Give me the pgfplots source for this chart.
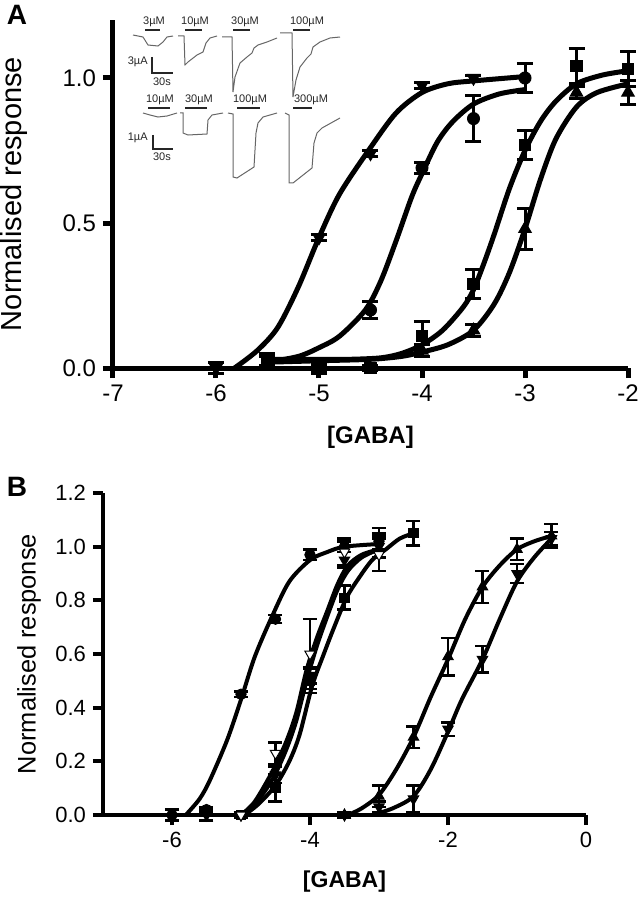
\documentclass[border=0pt]{standalone}
\usepackage{fontspec}
\setmainfont{Liberation Sans}
\usepackage{pgfplots}
\pgfplotsset{compat=1.18}

\pgfplotsset{
  fitA/.style={black, line width=2.5pt, smooth, no markers},
  fitB/.style={black, line width=2pt, smooth, no markers},
  ptsA/.style={black, only marks, mark size=3pt, line width=0.5pt,
    /pgfplots/error bars/y dir=both, /pgfplots/error bars/y explicit,
    /pgfplots/error bars/error bar style={line width=1.5pt, black},
    /pgfplots/error bars/error mark options={rotate=90, line width=1.5pt, mark size=4pt, black}},
  ptsB/.style={black, only marks, mark size=2.6pt, line width=0.5pt,
    /pgfplots/error bars/y dir=both, /pgfplots/error bars/y explicit,
    /pgfplots/error bars/error bar style={line width=1.3pt, black},
    /pgfplots/error bars/error mark options={rotate=90, line width=1.3pt, mark size=3.5pt, black}},
  trace/.style={black!60, line width=0.5pt, no markers},
  bar/.style={black!85, line width=0.8pt, no markers},
}

\begin{document}
\begin{tikzpicture}
% ---------------- panel A ----------------
\begin{axis}[
  at={(0pt,0pt)}, anchor=south west, scale only axis,
  width=257.5pt, height=174pt,
  xmin=-7, xmax=-2, ymin=0, ymax=1.2,
  axis lines=left, axis line style={line width=2.5pt, -},
  tick style={black, line width=2.5pt}, tick align=outside, major tick length=5pt,
  xtick={-7,-6,-5,-4,-3,-2}, xticklabels={-7,-6,-5,-4,-3,-2},
  ytick={0,0.5,1}, yticklabels={0.0,0.5,1.0},
  ticklabel style={font=\fontsize{12}{14}\selectfont},
  xlabel={[GABA]}, ylabel={Normalised response},
  xlabel style={at={(axis description cs:0.5,0)}, anchor=center, yshift=-34.5pt, font=\fontsize{12}{14}\selectfont\bfseries},
  ylabel style={at={(axis description cs:-0.192,0.5)}, anchor=center, font=\fontsize{14.5}{17}\selectfont},
  clip=false,
]
% fitted curves
\addplot[fitA] coordinates {(-5.82,0) (-5.6,0.06) (-5.4,0.14) (-5.2,0.28) (-5.0,0.45) (-4.8,0.60) (-4.5,0.76) (-4.25,0.88) (-4.0,0.95) (-3.75,0.98) (-3.5,0.99) (-3.0,1.005)};
\addplot[fitA] coordinates {(-5.5,0.02) (-5.2,0.04) (-5.0,0.07) (-4.8,0.11) (-4.55,0.20) (-4.4,0.30) (-4.25,0.44) (-4.1,0.59) (-4.0,0.67) (-3.85,0.78) (-3.7,0.85) (-3.5,0.91) (-3.25,0.945) (-3.0,0.96)};
\addplot[fitA] coordinates {(-5.5,0.03) (-5.0,0.03) (-4.7,0.03) (-4.4,0.035) (-4.2,0.05) (-4.0,0.08) (-3.8,0.13) (-3.6,0.21) (-3.5,0.27) (-3.4,0.36) (-3.3,0.46) (-3.15,0.62) (-3.0,0.75) (-2.85,0.85) (-2.7,0.92) (-2.5,0.98) (-2.25,1.01) (-2.0,1.025)};
\addplot[fitA] coordinates {(-5.5,0.02) (-5.0,0.025) (-4.5,0.03) (-4.2,0.04) (-4.0,0.055) (-3.75,0.08) (-3.5,0.13) (-3.3,0.22) (-3.15,0.33) (-3.0,0.48) (-2.85,0.65) (-2.7,0.79) (-2.5,0.90) (-2.3,0.95) (-2.0,0.98)};
% data
\addplot[ptsA, mark=triangle*, mark size=3.6pt, mark options={rotate=180}] coordinates {
  (-6,0.0) +- (0,0.02) (-5,0.45) +- (0,0.01) (-4.5,0.74) +- (0,0.01) (-4,0.975) +- (0,0.01) (-3.5,1.0) +- (0,0.01)};
\addplot[ptsA, mark=*] coordinates {
  (-5.5,0.02) +- (0,0.02) (-5,0.0) +- (0,0.02) (-4.5,0.20) +- (0,0.03) (-4,0.69) +- (0,0.02) (-3.5,0.86) +- (0,0.08) (-3,1.0) +- (0,0.05)};
\addplot[ptsA, mark=square*, mark size=2.8pt] coordinates {
  (-5.5,0.03) +- (0,0.02) (-5,0.0) +- (0,0.02) (-4.5,0.0) +- (0,0.01) (-4,0.11) +- (0,0.05) (-3.5,0.29) +- (0,0.05) (-3,0.77) +- (0,0.05) (-2.5,1.04) +- (0,0.06) (-2,1.03) +- (0,0.06)};
\addplot[ptsA, mark=triangle*, mark size=3.6pt] coordinates {
  (-5,0.0) +- (0,0.01) (-4,0.06) +- (0,0.02) (-3.5,0.13) +- (0,0.02) (-3,0.48) +- (0,0.07) (-2.5,0.95) +- (0,0.02) (-2,0.95) +- (0,0.04)};
\end{axis}

% ---------------- inset traces (pixel grid of the figure) ----------------
\begin{axis}[
  at={(-56.5pt,184pt)}, anchor=north west, scale only axis,
  width=320.5pt, height=450pt,
  xmin=0, xmax=641, ymin=0, ymax=900, y dir=reverse,
  hide axis, clip=false,
]
\addplot[trace] coordinates {(133,35) (143,37) (148,45) (158,46) (163,42) (167,37) (173,36)};
\addplot[trace] coordinates {(178,36) (184,36) (185,65) (188,62) (197,55) (203,52) (206,43) (210,38) (217,36)};
\addplot[trace] coordinates {(222,37) (232,37) (233,92) (235,77) (240,63) (247,57) (252,53) (254,48) (258,45) (267,42) (277,38)};
\addplot[trace] coordinates {(280,33) (292,33) (293,97) (296,80) (300,67) (307,58) (311,54) (313,47) (320,42) (330,38) (340,37)};
\addplot[trace] coordinates {(143,113) (150,115) (158,117) (167,116) (177,113)};
\addplot[trace] coordinates {(180,113) (183,113) (183,133) (188,135) (207,134) (208,120) (212,115) (223,113)};
\addplot[trace] coordinates {(228,113) (233,114) (233,177) (237,178) (254,167) (256,133) (258,123) (263,117) (277,113)};
\addplot[trace] coordinates {(285,113) (289,115) (289,183) (293,183) (312,168) (314,143) (317,133) (322,128) (340,118)};
% application bars
\addplot[bar] coordinates {(145,30) (160,30)};
\addplot[bar] coordinates {(185,30) (202,30)};
\addplot[bar] coordinates {(233,30) (250,30)};
\addplot[bar] coordinates {(293,30) (310,30)};
\addplot[bar] coordinates {(148,108) (170,108)};
\addplot[bar] coordinates {(185,108) (207,108)};
\addplot[bar] coordinates {(237,108) (260,108)};
\addplot[bar] coordinates {(293,108) (312,108)};
% scale bars
\addplot[bar] coordinates {(152,57) (152,73) (173,73)};
\addplot[bar] coordinates {(153,135) (153,149) (173,149)};
\begin{scope}[every node/.style={font=\fontsize{5.5}{6}\selectfont, text=black!85, inner sep=0pt}]
\node at (axis cs:154,22) {3µM};
\node at (axis cs:195,22) {10µM};
\node at (axis cs:245,22) {30µM};
\node at (axis cs:307,22) {100µM};
\node at (axis cs:160,100) {10µM};
\node at (axis cs:199,100) {30µM};
\node at (axis cs:250,100) {100µM};
\node at (axis cs:311,100) {300µM};
\node[anchor=east] at (axis cs:148,62) {3µA};
\node at (axis cs:162,82) {30s};
\node[anchor=east] at (axis cs:148,138) {1µA};
\node at (axis cs:162,157) {30s};
\end{scope}
\end{axis}

% ---------------- panel B ----------------
\begin{axis}[
  at={(-5pt,-223.5pt)}, anchor=south west, scale only axis,
  width=241.5pt, height=161pt,
  xmin=-7, xmax=0, ymin=0, ymax=1.2,
  axis lines=left, axis line style={line width=2pt, -},
  tick style={black, line width=2pt}, tick align=outside, major tick length=5pt,
  xtick={-6,-4,-2,0}, xticklabels={-6,-4,-2,0},
  ytick={0,0.2,0.4,0.6,0.8,1.0,1.2}, yticklabels={0.0,0.2,0.4,0.6,0.8,1.0,1.2},
  ticklabel style={font=\fontsize{11}{13}\selectfont},
  xlabel={[GABA]}, ylabel={Normalised response},
  xlabel style={at={(axis description cs:0.5,0)}, anchor=center, yshift=-33.5pt, font=\fontsize{11.5}{14}\selectfont\bfseries},
  ylabel style={at={(axis description cs:-0.153,0.5)}, anchor=center, font=\fontsize{12.7}{15}\selectfont},
  clip=false,
]
\addplot[fitB] coordinates {(-5.8,0) (-5.6,0.06) (-5.45,0.13) (-5.2,0.28) (-5.0,0.43) (-4.8,0.59) (-4.55,0.74) (-4.3,0.87) (-4.0,0.95) (-3.75,0.98) (-3.5,1.0) (-3.0,1.01)};
\addplot[fitB] coordinates {(-5.0,0.0) (-4.8,0.05) (-4.55,0.16) (-4.35,0.27) (-4.2,0.38) (-4.05,0.54) (-3.9,0.66) (-3.75,0.76) (-3.6,0.86) (-3.45,0.93) (-3.25,0.97) (-3.0,0.99)};
\addplot[fitB] coordinates {(-5.0,0.0) (-4.8,0.04) (-4.55,0.13) (-4.35,0.24) (-4.2,0.35) (-4.05,0.50) (-3.9,0.63) (-3.75,0.74) (-3.6,0.84) (-3.45,0.91) (-3.25,0.96) (-3.0,0.99)};
\addplot[fitB] coordinates {(-4.95,0.0) (-4.75,0.04) (-4.5,0.11) (-4.3,0.2) (-4.15,0.30) (-3.97,0.48) (-3.8,0.60) (-3.65,0.70) (-3.47,0.81) (-3.3,0.88) (-3.1,0.95) (-2.9,0.99) (-2.7,1.03) (-2.5,1.05)};
\addplot[fitB] coordinates {(-3.45,0.0) (-3.25,0.025) (-3.0,0.075) (-2.75,0.17) (-2.5,0.29) (-2.25,0.44) (-2.0,0.58) (-1.75,0.73) (-1.5,0.85) (-1.25,0.93) (-1.0,0.99) (-0.75,1.02) (-0.5,1.04)};
\addplot[fitB] coordinates {(-3.1,0.0) (-2.8,0.025) (-2.5,0.07) (-2.25,0.17) (-2.0,0.31) (-1.8,0.43) (-1.5,0.58) (-1.25,0.73) (-1.0,0.87) (-0.75,0.96) (-0.5,1.03)};
% data
\addplot[ptsB, mark=triangle*, mark size=3pt, mark options={rotate=180}] coordinates {
  (-5.5,0.0) +- (0,0.02) (-5,0.0) +- (0,0.01) (-4.5,0.15) +- (0,0.03) (-4,0.52) +- (0,0.03) (-3.5,0.95) +- (0,0.03) (-3,1.0) +- (0,0.04)};
\addplot[ptsB, mark=*] coordinates {
  (-6,0.0) +- (0,0.02) (-5.5,0.02) +- (0,0.01) (-5,0.45) +- (0,0.01) (-4.5,0.73) +- (0,0.015) (-4,0.97) +- (0,0.02) (-3.5,1.0) +- (0,0.02) (-3,1.02) +- (0,0.03)};
\addplot[ptsB, mark=square*, mark size=2.3pt] coordinates {
  (-5,0.0) +- (0,0.01) (-4.5,0.10) +- (0,0.05) (-4,0.50) +- (0,0.045) (-3.5,0.81) +- (0,0.045) (-3,1.03) +- (0,0.04) (-2.5,1.05) +- (0,0.045)};
\addplot[ptsB, mark=triangle*, mark size=3pt, mark options={rotate=180, fill=white}] coordinates {
  (-5,0.0) +- (0,0.01) (-4.5,0.23) +- (0,0.04) (-4,0.60) +- (0,0.13) (-3.5,0.98) +- (0,0.05) (-3,0.97) +- (0,0.06)};
\addplot[ptsB, mark=triangle*, mark size=3pt] coordinates {
  (-3.5,0.0) +- (0,0.01) (-3,0.07) +- (0,0.04) (-2.5,0.29) +- (0,0.04) (-2,0.59) +- (0,0.07) (-1.5,0.85) +- (0,0.06) (-1,0.99) +- (0,0.04) (-0.5,1.04) +- (0,0.045)};
\addplot[ptsB, mark=triangle*, mark size=3pt, mark options={rotate=180}] coordinates {
  (-3.5,0.0) +- (0,0.01) (-3,0.03) +- (0,0.02) (-2.5,0.06) +- (0,0.05) (-2,0.32) +- (0,0.025) (-1.5,0.58) +- (0,0.05) (-1,0.90) +- (0,0.035) (-0.5,1.03) +- (0,0.025)};
\end{axis}

\node[font=\fontsize{14}{16}\selectfont\bfseries] at (-48pt,176.5pt) {A};
\node[font=\fontsize{14}{16}\selectfont\bfseries] at (-48pt,-59.5pt) {B};

\pgfresetboundingbox
\path (-56.5pt,-266pt) rectangle (264pt,184pt);
\end{tikzpicture}
\end{document}
